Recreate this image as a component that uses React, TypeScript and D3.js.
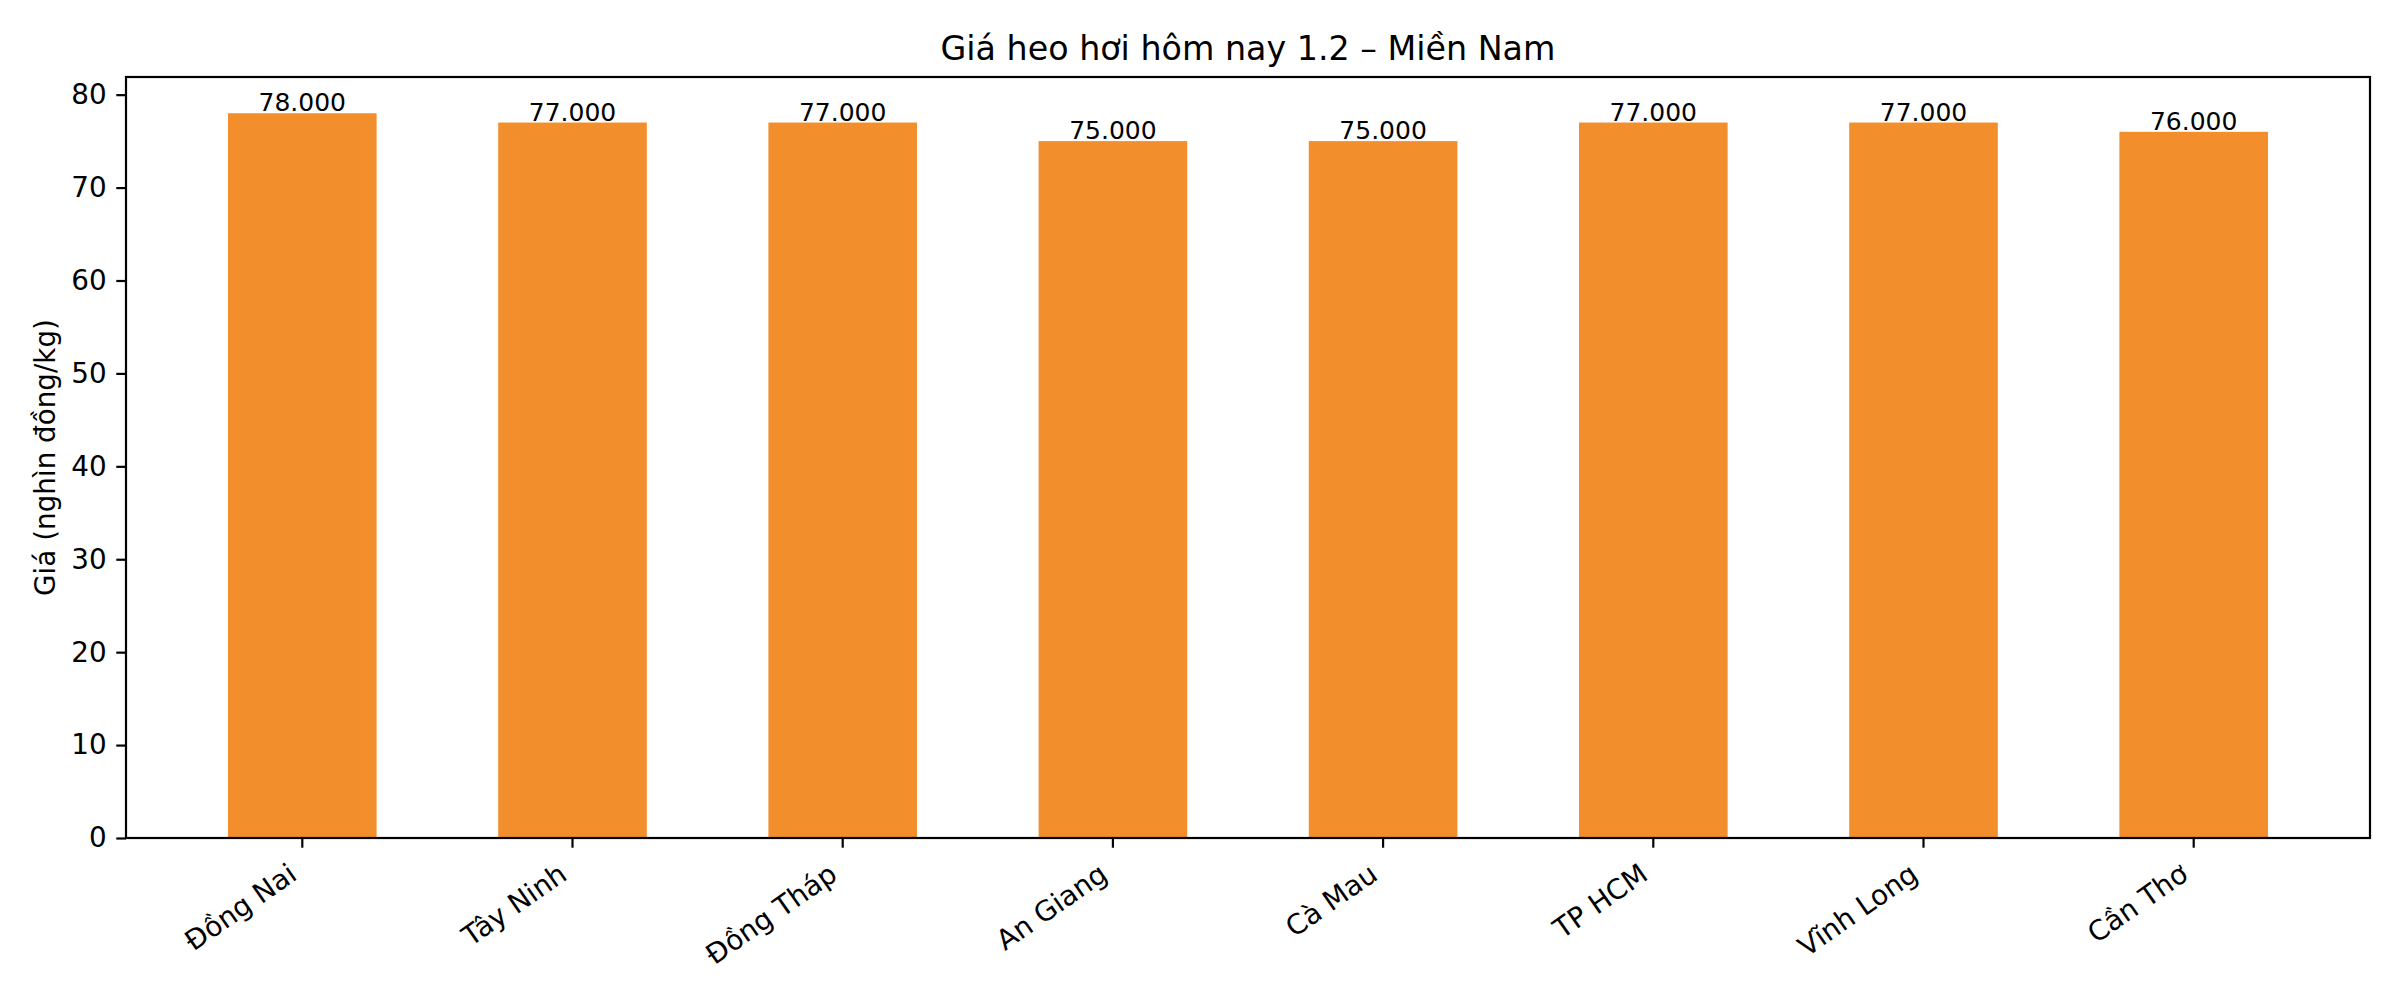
import React, { useEffect, useRef } from "react";
import * as d3 from "d3";

// data
const regions = [
  "Đồng Nai",
  "Tây Ninh",
  "Đồng Tháp",
  "An Giang",
  "Cà Mau",
  "TP HCM",
  "Vĩnh Long",
  "Cần Thơ",
];
const prices = [78, 77, 77, 75, 75, 77, 77, 76];
const yTicks = [0, 10, 20, 30, 40, 50, 60, 70, 80];

const TITLE = "Giá heo hơi hôm nay 1.2 – Miền Nam";
const Y_LABEL = "Giá (nghìn đồng/kg)";

const W = 2400;
const H = 1000;
const FONT = "DejaVu Sans, sans-serif";
const BAR_COLOR = "#f28e2b";

const App: React.FC = () => {
  const svgRef = useRef<SVGSVGElement>(null);

  useEffect(() => {
    if (!svgRef.current) return;

    const margin = { top: 77, right: 30, bottom: 162, left: 126 };
    const innerW = W - margin.left - margin.right;
    const innerH = H - margin.top - margin.bottom;

    const svg = d3.select(svgRef.current);
    svg.selectAll("*").remove();

    svg
      .append("rect")
      .attr("width", W)
      .attr("height", H)
      .attr("fill", "#fff");

    const g = svg
      .append("g")
      .attr("transform", `translate(${margin.left},${margin.top})`);

    // SCALES (matplotlib bar width 0.55 + 5% margins)
    const x = d3
      .scaleBand<string>()
      .domain(regions)
      .range([0, innerW])
      .paddingInner(0.45)
      .paddingOuter(0.3775);

    const yMax = (d3.max(prices) || 0) * 1.05;
    const y = d3.scaleLinear().domain([0, yMax]).range([innerH, 0]);

    const vn = d3.formatLocale({
      decimal: ",",
      thousands: ".",
      grouping: [3],
      currency: ["", "₫"],
    });
    const fmt = vn.format(",");

    // BARS
    g.selectAll("rect.bar")
      .data(prices)
      .enter()
      .append("rect")
      .attr("class", "bar")
      .attr("x", (_, i) => x(regions[i])!)
      .attr("y", d => y(d))
      .attr("width", x.bandwidth())
      .attr("height", d => innerH - y(d))
      .attr("fill", BAR_COLOR);

    // VALUE LABELS
    g.selectAll("text.val")
      .data(prices)
      .enter()
      .append("text")
      .attr("class", "val")
      .attr("x", (_, i) => x(regions[i])! + x.bandwidth() / 2)
      .attr("y", d => y(d) - 2)
      .attr("text-anchor", "middle")
      .style("font-family", FONT)
      .style("font-size", "25px")
      .attr("fill", "#000")
      .text(d => fmt(d * 1000));

    const tickLen = 9.7;
    const tickPad = 9.7;

    // X AXIS
    const xAxis = g
      .append("g")
      .attr("transform", `translate(0,${innerH})`)
      .call(d3.axisBottom(x).tickSize(tickLen).tickSizeOuter(0));
    xAxis.select(".domain").remove();
    xAxis.selectAll(".tick line").attr("stroke", "#000").attr("stroke-width", 2.2);

    const theta = (35 * Math.PI) / 180;
    const half = 16;
    xAxis
      .selectAll<SVGTextElement, string>(".tick text")
      .attr("x", -half * Math.sin(theta))
      .attr("y", tickLen + tickPad + half * Math.cos(theta))
      .attr("dy", null)
      .attr("dominant-baseline", "central")
      .attr(
        "transform",
        `rotate(-35, ${-half * Math.sin(theta)}, ${tickLen + tickPad + half * Math.cos(theta)})`
      )
      .style("text-anchor", "end")
      .style("font-family", FONT)
      .style("font-size", "27.8px")
      .attr("fill", "#000");

    // Y AXIS
    const yAxis = g
      .append("g")
      .call(
        d3
          .axisLeft(y)
          .tickValues(yTicks)
          .tickSize(tickLen)
          .tickPadding(tickPad)
          .tickSizeOuter(0)
      );
    yAxis.select(".domain").remove();
    yAxis.selectAll(".tick line").attr("stroke", "#000").attr("stroke-width", 2.2);
    yAxis
      .selectAll(".tick text")
      .style("font-family", FONT)
      .style("font-size", "27.8px")
      .attr("fill", "#000");

    // FRAME
    g.append("rect")
      .attr("width", innerW)
      .attr("height", innerH)
      .attr("fill", "none")
      .attr("stroke", "#000")
      .attr("stroke-width", 2.2);

    // Y LABEL
    svg
      .append("text")
      .attr("transform", `translate(55,${margin.top + innerH / 2}) rotate(-90)`)
      .attr("text-anchor", "middle")
      .style("font-family", FONT)
      .style("font-size", "27.8px")
      .attr("fill", "#000")
      .text(Y_LABEL);

    // TITLE
    svg
      .append("text")
      .attr("x", margin.left + innerW / 2)
      .attr("y", margin.top - 17)
      .attr("text-anchor", "middle")
      .style("font-family", FONT)
      .style("font-size", "33.3px")
      .attr("fill", "#000")
      .text(TITLE);
  }, []);

  return (
    <svg
      ref={svgRef}
      width={W}
      height={H}
      style={{ position: "absolute", left: 0, top: 0 }}
    ></svg>
  );
};

export default App;
